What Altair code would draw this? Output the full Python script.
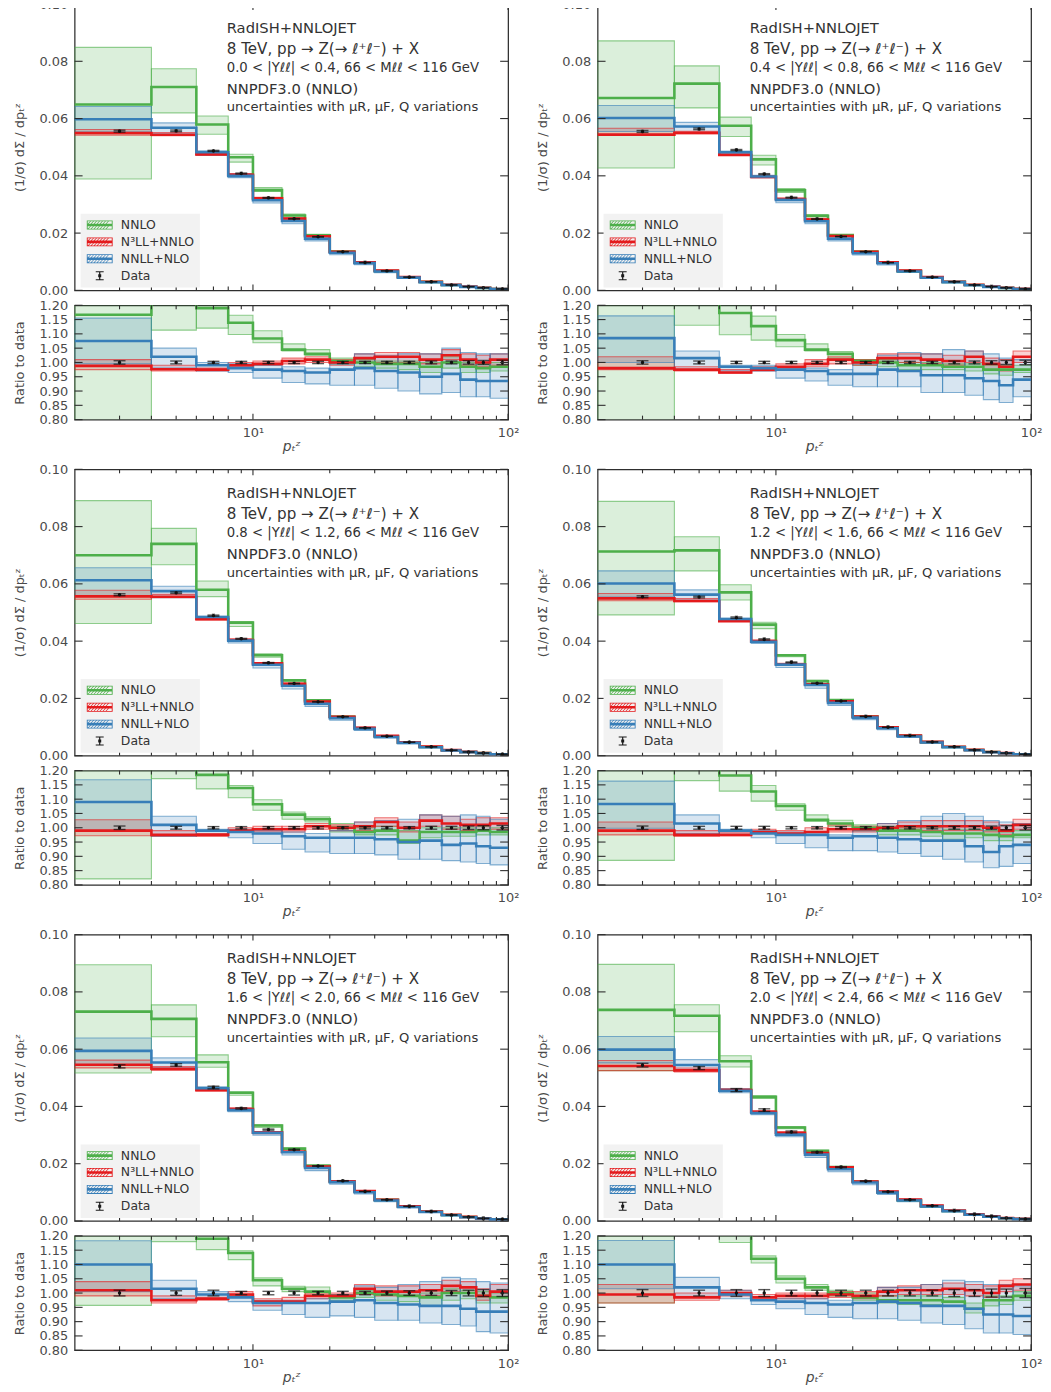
import altair as alt
import pandas as pd

# ---------------- bins / axes ----------------
EDGES = [2, 4, 6, 8, 10, 13, 16, 20, 25, 30, 37, 45, 55, 65, 75, 85, 105]
X_MAJOR = [10, 100]
X_MINOR = [3, 4, 5, 6, 7, 8, 9, 20, 30, 40, 50, 60, 70, 80, 90]
MAIN_YTICKS = [0.0, 0.02, 0.04, 0.06, 0.08, 0.10]
RATIO_YTICKS = [0.80, 0.85, 0.90, 0.95, 1.00, 1.05, 1.10, 1.15, 1.20]

SERIES = ["NNLO", "N³LL+NNLO", "NNLL+NLO", "Data"]
COLORS = ["#4daf4a", "#e41a1c", "#377eb8", "#1a1a1a"]

LINE1 = "RadISH+NNLOJET"
LINE2 = "8 TeV, pp → Z(→ ℓ⁺ℓ⁻) + X"
RAPIDITY = ["0.0 < |Yℓℓ| < 0.4", "0.4 < |Yℓℓ| < 0.8", "0.8 < |Yℓℓ| < 1.2",
            "1.2 < |Yℓℓ| < 1.6", "1.6 < |Yℓℓ| < 2.0", "2.0 < |Yℓℓ| < 2.4"]
MASS = "66 < Mℓℓ < 116 GeV"
LINE4 = "NNPDF3.0 (NNLO)"
LINE5 = "uncertainties with μR, μF, Q variations"

# ---------------- panel 1 : 0.0 < |Y| < 0.4 ----------------
P1_DATA = [0.0556, 0.0557, 0.0487, 0.0408, 0.0323, 0.0250, 0.0187, 0.0135, 0.0097, 0.0068, 0.0046, 0.0030, 0.0019, 0.0013, 0.0009, 0.0005]
P1_ERR = [0.006, 0.005, 0.004, 0.004, 0.004, 0.004, 0.004, 0.004, 0.004, 0.004, 0.004, 0.005, 0.005, 0.006, 0.007, 0.008]
P1_NNLO_C = [1.167, 1.275, 1.19, 1.139, 1.084, 1.045, 1.03, 1.005, 1.0, 0.995, 0.995, 0.985, 1.0, 0.985, 0.98, 0.985]
P1_NNLO_LO = [0.70, 1.113, 1.12, 1.098, 1.069, 1.04, 1.025, 0.995, 0.985, 0.98, 0.975, 0.965, 0.98, 0.965, 0.965, 0.97]
P1_NNLO_HI = [1.526, 1.39, 1.25, 1.165, 1.111, 1.065, 1.045, 1.015, 1.01, 1.005, 1.005, 1.0, 1.02, 1.0, 0.995, 1.0]
P1_N3LL_C = [0.988, 0.976, 0.975, 0.99, 0.995, 1.005, 1.01, 1.0, 1.015, 1.02, 1.02, 1.01, 1.025, 1.01, 1.0, 1.01]
P1_N3LL_LO = [0.975, 0.97, 0.97, 0.985, 0.99, 0.995, 1.0, 0.99, 1.0, 1.0, 1.0, 0.995, 1.01, 0.99, 0.985, 0.99]
P1_N3LL_HI = [1.01, 0.99, 0.98, 1.0, 1.005, 1.015, 1.02, 1.01, 1.03, 1.035, 1.035, 1.03, 1.045, 1.03, 1.025, 1.03]
P1_NNLL_C = [1.075, 1.02, 0.99, 0.98, 0.975, 0.97, 0.965, 0.975, 0.98, 0.97, 0.965, 0.95, 0.96, 0.94, 0.935, 0.935]
P1_NNLL_LO = [0.995, 0.98, 0.97, 0.965, 0.945, 0.93, 0.925, 0.92, 0.92, 0.91, 0.90, 0.89, 0.895, 0.88, 0.88, 0.875]
P1_NNLL_HI = [1.155, 1.05, 1.0, 0.995, 0.99, 0.985, 0.98, 0.995, 1.03, 1.025, 1.03, 1.03, 1.05, 1.035, 1.03, 1.03]

# ---------------- panel 2 : 0.4 < |Y| < 0.8 ----------------
P2_DATA = [0.0555, 0.0564, 0.0490, 0.0406, 0.0324, 0.0249, 0.0188, 0.0135, 0.0097, 0.0068, 0.0046, 0.0030, 0.0019, 0.0013, 0.0009, 0.0005]
P2_ERR = [0.006, 0.005, 0.004, 0.004, 0.004, 0.004, 0.004, 0.004, 0.004, 0.004, 0.004, 0.005, 0.005, 0.006, 0.007, 0.008]
P2_NNLO_C = [1.21, 1.28, 1.173, 1.127, 1.078, 1.045, 1.03, 1.005, 1.0, 0.99, 0.99, 0.985, 0.985, 0.975, 0.975, 0.975]
P2_NNLO_LO = [0.77, 1.13, 1.097, 1.078, 1.055, 1.04, 1.015, 0.99, 0.985, 0.975, 0.975, 0.975, 0.97, 0.96, 0.955, 0.965]
P2_NNLO_HI = [1.57, 1.39, 1.235, 1.162, 1.098, 1.065, 1.038, 1.01, 1.01, 1.0, 1.0, 0.995, 0.995, 0.99, 0.99, 0.99]
P2_N3LL_C = [0.98, 0.975, 0.965, 0.975, 0.985, 0.995, 1.01, 1.0, 1.015, 1.015, 1.01, 1.005, 1.02, 0.995, 0.985, 1.02]
P2_N3LL_LO = [0.975, 0.97, 0.962, 0.97, 0.98, 0.985, 0.995, 0.99, 1.0, 1.0, 0.995, 0.99, 1.0, 0.975, 0.97, 1.0]
P2_N3LL_HI = [1.02, 0.985, 0.975, 0.985, 0.995, 1.01, 1.02, 1.01, 1.03, 1.03, 1.03, 1.025, 1.04, 1.015, 1.01, 1.04]
P2_NNLL_C = [1.085, 1.015, 0.985, 0.98, 0.975, 0.97, 0.96, 0.96, 0.975, 0.97, 0.955, 0.955, 0.945, 0.935, 0.92, 0.94]
P2_NNLL_LO = [1.0, 0.975, 0.97, 0.97, 0.945, 0.935, 0.92, 0.915, 0.915, 0.915, 0.895, 0.895, 0.885, 0.87, 0.86, 0.88]
P2_NNLL_HI = [1.163, 1.04, 0.99, 0.99, 0.985, 0.98, 0.975, 0.995, 1.025, 1.035, 1.03, 1.045, 1.04, 1.03, 1.015, 1.01]

# ---------------- panel 3 : 0.8 < |Y| < 1.2 ----------------
P3_DATA = [0.0562, 0.0569, 0.0489, 0.0408, 0.0324, 0.0252, 0.0188, 0.0136, 0.0097, 0.0068, 0.0047, 0.0031, 0.0019, 0.0013, 0.0009, 0.0005]
P3_ERR = [0.006, 0.005, 0.004, 0.004, 0.004, 0.004, 0.004, 0.004, 0.004, 0.004, 0.004, 0.005, 0.005, 0.006, 0.007, 0.008]
P3_NNLO_C = [1.245, 1.30, 1.185, 1.139, 1.082, 1.046, 1.03, 1.0, 0.985, 0.99, 0.955, 0.985, 0.985, 0.985, 0.99, 0.985]
P3_NNLO_LO = [0.821, 1.172, 1.136, 1.105, 1.061, 1.03, 1.02, 0.985, 0.975, 0.975, 0.945, 0.965, 0.97, 0.97, 0.975, 0.975]
P3_NNLO_HI = [1.585, 1.395, 1.247, 1.148, 1.098, 1.055, 1.038, 1.015, 1.0, 1.005, 0.99, 1.0, 1.0, 1.0, 1.005, 1.0]
P3_N3LL_C = [0.99, 0.975, 0.975, 0.99, 0.995, 0.995, 1.005, 1.0, 1.005, 1.02, 1.0, 1.025, 1.015, 1.01, 1.01, 1.015]
P3_N3LL_LO = [0.972, 0.97, 0.97, 0.985, 0.985, 0.985, 0.995, 0.99, 0.99, 1.005, 0.985, 1.005, 0.995, 0.99, 0.99, 0.995]
P3_N3LL_HI = [1.028, 0.99, 0.98, 1.0, 1.005, 1.005, 1.015, 1.01, 1.02, 1.035, 1.02, 1.045, 1.04, 1.03, 1.035, 1.035]
P3_NNLL_C = [1.09, 1.01, 0.99, 0.985, 0.98, 0.97, 0.965, 0.965, 0.965, 0.96, 0.95, 0.955, 0.94, 0.945, 0.935, 0.93]
P3_NNLL_LO = [0.99, 0.97, 0.975, 0.965, 0.945, 0.925, 0.915, 0.91, 0.91, 0.905, 0.89, 0.89, 0.885, 0.88, 0.875, 0.87]
P3_NNLL_HI = [1.168, 1.04, 0.995, 0.995, 0.99, 0.985, 0.98, 0.99, 1.02, 1.025, 1.03, 1.045, 1.04, 1.045, 1.04, 1.03]

# ---------------- panel 4 : 1.2 < |Y| < 1.6 ----------------
P4_DATA = [0.0555, 0.0554, 0.0482, 0.0406, 0.0326, 0.0253, 0.0191, 0.0137, 0.0099, 0.0070, 0.0048, 0.0031, 0.0020, 0.0013, 0.0009, 0.0005]
P4_ERR = [0.006, 0.005, 0.005, 0.005, 0.004, 0.004, 0.004, 0.004, 0.004, 0.004, 0.004, 0.005, 0.005, 0.006, 0.007, 0.008]
P4_NNLO_C = [1.285, 1.294, 1.183, 1.127, 1.076, 1.028, 1.015, 1.0, 0.99, 0.99, 0.985, 0.98, 0.98, 0.975, 0.97, 0.975]
P4_NNLO_LO = [0.886, 1.165, 1.128, 1.093, 1.061, 1.022, 1.005, 0.99, 0.975, 0.975, 0.97, 0.96, 0.965, 0.955, 0.955, 0.965]
P4_NNLO_HI = [1.60, 1.38, 1.238, 1.148, 1.084, 1.045, 1.026, 1.01, 1.005, 1.0, 1.0, 0.995, 0.995, 0.99, 0.985, 0.99]
P4_N3LL_C = [0.99, 0.975, 0.975, 0.985, 0.98, 0.985, 0.995, 0.995, 1.0, 1.005, 1.005, 1.005, 1.005, 1.0, 0.99, 1.01]
P4_N3LL_LO = [0.975, 0.97, 0.972, 0.98, 0.975, 0.975, 0.985, 0.985, 0.99, 0.995, 0.99, 0.99, 0.99, 0.985, 0.975, 0.995]
P4_N3LL_HI = [1.02, 0.99, 0.985, 0.995, 0.99, 1.0, 1.01, 1.005, 1.015, 1.02, 1.025, 1.025, 1.025, 1.02, 1.01, 1.03]
P4_NNLL_C = [1.083, 1.015, 0.99, 0.98, 0.975, 0.975, 0.965, 0.97, 0.965, 0.96, 0.955, 0.955, 0.935, 0.915, 0.935, 0.94]
P4_NNLL_LO = [0.998, 0.98, 0.975, 0.965, 0.945, 0.93, 0.92, 0.92, 0.915, 0.91, 0.90, 0.89, 0.88, 0.86, 0.865, 0.875]
P4_NNLL_HI = [1.163, 1.045, 0.995, 0.99, 0.985, 0.985, 0.975, 0.99, 1.015, 1.025, 1.04, 1.05, 1.04, 1.025, 1.02, 1.015]

# ---------------- panel 5 : 1.6 < |Y| < 2.0 ----------------
P5_DATA = [0.0540, 0.0545, 0.0466, 0.0393, 0.0319, 0.0249, 0.0192, 0.0140, 0.0103, 0.0074, 0.0051, 0.0033, 0.0021, 0.0014, 0.0009, 0.0006]
P5_ERR = [0.010, 0.008, 0.010, 0.006, 0.006, 0.007, 0.006, 0.006, 0.006, 0.007, 0.008, 0.008, 0.009, 0.010, 0.012, 0.012]
P5_NNLO_C = [1.354, 1.295, 1.19, 1.14, 1.045, 1.015, 1.005, 0.985, 1.0, 0.995, 0.99, 0.985, 1.0, 1.0, 0.99, 0.985]
P5_NNLO_LO = [0.957, 1.18, 1.152, 1.117, 1.025, 1.005, 0.99, 0.975, 0.985, 0.975, 0.97, 0.955, 0.975, 0.98, 0.965, 0.965]
P5_NNLO_HI = [1.657, 1.385, 1.245, 1.148, 1.053, 1.024, 1.021, 0.995, 1.01, 1.005, 1.005, 1.0, 1.015, 1.01, 1.005, 1.0]
P5_N3LL_C = [1.01, 0.975, 0.98, 0.995, 0.97, 0.97, 0.99, 0.99, 1.015, 1.005, 1.005, 1.01, 1.025, 1.02, 0.99, 1.005]
P5_N3LL_LO = [0.99, 0.965, 0.975, 0.99, 0.955, 0.965, 0.98, 0.985, 0.995, 0.99, 0.99, 0.99, 1.005, 1.0, 0.975, 0.985]
P5_N3LL_HI = [1.04, 0.99, 0.985, 1.005, 0.98, 0.985, 1.0, 1.0, 1.03, 1.025, 1.025, 1.03, 1.045, 1.04, 1.015, 1.03]
P5_NNLL_C = [1.10, 1.015, 0.995, 0.985, 0.965, 0.965, 0.965, 0.97, 0.975, 0.965, 0.96, 0.955, 0.955, 0.945, 0.935, 0.935]
P5_NNLL_LO = [1.005, 0.98, 0.98, 0.97, 0.94, 0.925, 0.915, 0.92, 0.915, 0.905, 0.905, 0.895, 0.89, 0.885, 0.865, 0.86]
P5_NNLL_HI = [1.183, 1.045, 1.005, 0.995, 0.975, 0.975, 0.98, 0.995, 1.025, 1.02, 1.03, 1.04, 1.055, 1.05, 1.04, 1.035]

# ---------------- panel 6 : 2.0 < |Y| < 2.4 ----------------
P6_DATA = [0.0544, 0.0534, 0.0457, 0.0387, 0.0311, 0.0240, 0.0188, 0.0139, 0.0102, 0.0074, 0.0053, 0.0036, 0.0023, 0.0016, 0.0010, 0.0007]
P6_ERR = [0.012, 0.010, 0.012, 0.012, 0.010, 0.010, 0.010, 0.010, 0.010, 0.010, 0.010, 0.012, 0.012, 0.014, 0.014, 0.016]
P6_NNLO_C = [1.355, 1.342, 1.22, 1.12, 1.05, 1.02, 1.0, 0.985, 0.975, 0.975, 0.975, 0.97, 0.945, 0.975, 0.975, 0.99]
P6_NNLO_LO = [0.965, 1.238, 1.177, 1.105, 1.035, 1.01, 0.99, 0.975, 0.965, 0.96, 0.96, 0.955, 0.93, 0.955, 0.96, 0.975]
P6_NNLO_HI = [1.647, 1.414, 1.263, 1.13, 1.06, 1.03, 1.01, 1.0, 0.99, 0.99, 0.99, 0.985, 0.965, 0.99, 0.99, 1.005]
P6_N3LL_C = [0.995, 0.985, 1.0, 0.985, 0.99, 0.99, 0.995, 0.99, 1.005, 1.01, 1.01, 1.015, 1.01, 1.0, 1.025, 1.03]
P6_N3LL_LO = [0.965, 0.975, 0.99, 0.975, 0.98, 0.98, 0.985, 0.98, 0.99, 0.995, 0.995, 0.995, 0.99, 0.985, 1.005, 1.01]
P6_N3LL_HI = [1.03, 1.0, 1.01, 0.995, 1.0, 1.0, 1.005, 1.005, 1.02, 1.025, 1.03, 1.035, 1.03, 1.025, 1.045, 1.05]
P6_NNLL_C = [1.10, 1.02, 0.995, 0.975, 0.97, 0.965, 0.96, 0.965, 0.97, 0.965, 0.955, 0.955, 0.945, 0.925, 0.925, 0.92]
P6_NNLL_LO = [1.015, 0.985, 0.98, 0.96, 0.945, 0.925, 0.915, 0.91, 0.91, 0.905, 0.895, 0.89, 0.875, 0.86, 0.86, 0.855]
P6_NNLL_HI = [1.184, 1.055, 1.01, 0.985, 0.98, 0.98, 0.975, 0.99, 1.02, 1.02, 1.03, 1.045, 1.04, 1.03, 1.03, 1.025]

PANELS = [
    dict(data=P1_DATA, err=P1_ERR, NNLO=(P1_NNLO_C, P1_NNLO_LO, P1_NNLO_HI), N3LL=(P1_N3LL_C, P1_N3LL_LO, P1_N3LL_HI), NNLL=(P1_NNLL_C, P1_NNLL_LO, P1_NNLL_HI)),
    dict(data=P2_DATA, err=P2_ERR, NNLO=(P2_NNLO_C, P2_NNLO_LO, P2_NNLO_HI), N3LL=(P2_N3LL_C, P2_N3LL_LO, P2_N3LL_HI), NNLL=(P2_NNLL_C, P2_NNLL_LO, P2_NNLL_HI)),
    dict(data=P3_DATA, err=P3_ERR, NNLO=(P3_NNLO_C, P3_NNLO_LO, P3_NNLO_HI), N3LL=(P3_N3LL_C, P3_N3LL_LO, P3_N3LL_HI), NNLL=(P3_NNLL_C, P3_NNLL_LO, P3_NNLL_HI)),
    dict(data=P4_DATA, err=P4_ERR, NNLO=(P4_NNLO_C, P4_NNLO_LO, P4_NNLO_HI), N3LL=(P4_N3LL_C, P4_N3LL_LO, P4_N3LL_HI), NNLL=(P4_NNLL_C, P4_NNLL_LO, P4_NNLL_HI)),
    dict(data=P5_DATA, err=P5_ERR, NNLO=(P5_NNLO_C, P5_NNLO_LO, P5_NNLO_HI), N3LL=(P5_N3LL_C, P5_N3LL_LO, P5_N3LL_HI), NNLL=(P5_NNLL_C, P5_NNLL_LO, P5_NNLL_HI)),
    dict(data=P6_DATA, err=P6_ERR, NNLO=(P6_NNLO_C, P6_NNLO_LO, P6_NNLO_HI), N3LL=(P6_N3LL_C, P6_N3LL_LO, P6_N3LL_HI), NNLL=(P6_NNLL_C, P6_NNLL_LO, P6_NNLL_HI)),
]

# ---------------- styling ----------------
W, HM, HR = 436, 288, 115
FONT = "DejaVu Sans"
TXT = "#333333"
LBL = "#4a4a4a"
FRAME = "#2e2e2e"
KEYS = {"NNLO": "NNLO", "N³LL+NNLO": "N3LL", "NNLL+NLO": "NNLL"}
DRAW = ["NNLO", "N³LL+NNLO", "NNLL+NLO"]
XSCALE = alt.Scale(type="log", domain=[2, 100], nice=False)


def patch_path():
    parts = ["M-2.6,-0.9H2.6V0.9H-2.6Z", "M-2.42,-0.74V0.74H2.42V-0.74Z", "M-2.42,-0.26H2.42V0.26H-2.42Z"]
    for yt, yb in [(-0.74, -0.26), (0.26, 0.74)]:
        h = yb - yt
        a = -2.42
        while a + h + 0.18 <= 2.42:
            parts.append(f"M{a + h:.2f},{yt}L{a + h + 0.18:.2f},{yt}L{a + 0.18:.2f},{yb}L{a:.2f},{yb}Z")
            a += 0.6
    return "".join(parts)


PATCH = patch_path()
IBEAM = "M-0.8,-0.9H0.8V-0.7H0.12V0.7H0.8V0.9H-0.8V0.7H-0.12V-0.7H-0.8ZM-0.3,-0.3H0.3V0.3H-0.3Z"
SHAPES = [PATCH, PATCH, PATCH, IBEAM]

LEGEND = alt.Legend(
    title=None, orient="none", legendX=6, legendY=211, padding=5, fillColor="#f2f2f2",
    symbolSize=100, symbolOffset=8, labelOffset=15, rowPadding=4,
    symbolStrokeWidth=0, symbolOpacity=1,
    labelFont=FONT, labelFontSize=12.5, labelColor=TXT,
)


def band_df(p, ratio):
    rows = []
    for s in DRAW:
        c, lo, hi = p[KEYS[s]]
        for i in range(len(c)):
            f = 1.0 if ratio else p["data"][i]
            rows.append({"series": s, "x": EDGES[i], "x2": EDGES[i + 1], "lo": lo[i] * f, "hi": hi[i] * f})
    return pd.DataFrame(rows)


def line_df(p, ratio):
    rows = []
    for s in DRAW:
        c = p[KEYS[s]][0]
        for i in range(len(c) + 1):
            j = min(i, len(c) - 1)
            f = 1.0 if ratio else p["data"][j]
            rows.append({"series": s, "x": EDGES[i], "y": c[j] * f})
    return pd.DataFrame(rows)


def data_df(p, ratio):
    rows = []
    for i, (d, e) in enumerate(zip(p["data"], p["err"])):
        v = 1.0 if ratio else d
        rows.append({"series": "Data", "x": (EDGES[i] + EDGES[i + 1]) / 2, "y": v,
                     "lo": v * (1 - e), "hi": v * (1 + e)})
    return pd.DataFrame(rows)


def make_panel(p, idx, ratio):
    H = HR if ratio else HM
    if ratio:
        ysc = alt.Scale(domain=[0.8, 1.2], nice=False, zero=False)
        yax = alt.Axis(values=RATIO_YTICKS, format=".2f", title="Ratio to data", labelPadding=7,
                       titlePadding=12, labelOverlap=False, labelFlush=False)
        xax = alt.Axis(values=X_MAJOR, labelExpr="datum.value == 10 ? '10¹' : '10²'", title="pₜᶻ",
                       labelPadding=7, titlePadding=0, labelFlush=False, labelOverlap=False,
                       titleFontStyle="italic", titleFontSize=14)
        yt = RATIO_YTICKS
    else:
        ysc = alt.Scale(domain=[0.0, 0.1], nice=False, zero=False)
        yax = alt.Axis(values=MAIN_YTICKS, format=".2f", title="(1/σ) dΣ / dpₜᶻ", labelPadding=7,
                       titlePadding=12, labelOverlap=False, labelFlush=False)
        xax = None
        yt = MAIN_YTICKS

    def X(f):
        return alt.X(f, type="quantitative", scale=XSCALE, axis=xax)

    def Y(f):
        return alt.Y(f, type="quantitative", scale=ysc, axis=yax)

    cscale = alt.Scale(domain=SERIES, range=COLORS)

    def C():
        if ratio:
            return alt.Color("series:N", scale=cscale, legend=None)
        return alt.Color("series:N", scale=cscale)

    bdf = band_df(p, ratio)
    fill = alt.Chart(bdf).mark_rect(fillOpacity=0.2, clip=True).encode(
        x=X("x"), x2="x2", y=Y("lo"), y2="hi", color=C())
    outline = alt.Chart(bdf).mark_rect(filled=False, strokeOpacity=0.6, strokeWidth=1.1, clip=True).encode(
        x=X("x"), x2="x2", y=Y("lo"), y2="hi", color=C())
    lines = alt.Chart(line_df(p, ratio)).mark_line(interpolate="step-after", strokeWidth=2.6, clip=True).encode(
        x=X("x"), y=Y("y"), color=C())

    dd = alt.Chart(data_df(p, ratio))
    err = dd.mark_rule(color="#111111", strokeWidth=1.3).encode(x=X("x"), y=Y("lo"), y2="hi")
    cap_lo = dd.mark_tick(orient="horizontal", size=12, thickness=1.4, color="#111111").encode(x=X("x"), y=Y("lo"))
    cap_hi = dd.mark_tick(orient="horizontal", size=12, thickness=1.4, color="#111111").encode(x=X("x"), y=Y("hi"))
    dot = dd.mark_point(filled=True, size=12, color="#111111", opacity=1).encode(x=X("x"), y=Y("y"))

    # inward ticks on all four sides
    tk = dict(color=FRAME, strokeWidth=1.1)
    ymaj = alt.Chart(pd.DataFrame({"v": yt}))
    xmaj = alt.Chart(pd.DataFrame({"v": X_MAJOR}))
    xmin = alt.Chart(pd.DataFrame({"v": X_MINOR}))
    ticks = [
        ymaj.mark_rule(**tk).encode(y=Y("v"), x=alt.value(0), x2=alt.value(8)),
        ymaj.mark_rule(**tk).encode(y=Y("v"), x=alt.value(W - 8), x2=alt.value(W)),
        xmaj.mark_rule(**tk).encode(x=X("v"), y=alt.value(H - 6), y2=alt.value(H)),
        xmaj.mark_rule(**tk).encode(x=X("v"), y=alt.value(0), y2=alt.value(6)),
        xmin.mark_rule(**tk).encode(x=X("v"), y=alt.value(H - 4), y2=alt.value(H)),
        xmin.mark_rule(**tk).encode(x=X("v"), y=alt.value(0), y2=alt.value(4)),
    ]

    layers = []
    if not ratio:
        # legend-bearing layer (data points keyed by series)
        layers.append(dd.mark_point(filled=True, size=16, opacity=1).encode(
            x=X("x"), y=Y("y"),
            color=alt.Color("series:N", scale=cscale, legend=LEGEND),
            shape=alt.Shape("series:N", scale=alt.Scale(domain=SERIES, range=SHAPES), legend=LEGEND)))
    layers += [fill, outline, lines, err, cap_lo, cap_hi, dot] + ticks
    if not ratio:
        texts = [LINE1, LINE2, RAPIDITY[idx] + ", " + MASS, LINE4, LINE5]
        ys = [29, 50, 68, 90, 108]
        sizes = [14.8, 15.2, 13.3, 14.8, 13.2]
        for t, yy, fs in zip(texts, ys, sizes):
            layers.append(
                alt.Chart(pd.DataFrame({"t": [t]})).mark_text(
                    align="left", baseline="alphabetic", font=FONT, fontSize=fs, color=TXT
                ).encode(text="t:N", x=alt.value(153), y=alt.value(yy))
            )
    return alt.layer(*layers).properties(width=W, height=H)


RES = dict(color="independent", shape="independent")

cols = []
for idx, p in enumerate(PANELS):
    main = make_panel(p, idx, False)
    rat = make_panel(p, idx, True)
    cols.append(alt.vconcat(main, rat, spacing=0).resolve_scale(**RES))

rows = [alt.hconcat(cols[2 * r], cols[2 * r + 1], spacing=16).resolve_scale(**RES)
        for r in range(3)]

chart = alt.vconcat(*rows, spacing=8).resolve_scale(**RES)
chart = chart.properties(
    padding={"top": -15, "left": 5, "right": 0, "bottom": 0}
).configure_view(
    stroke=FRAME, strokeWidth=1.25
).configure_axis(
    labelFont=FONT, titleFont=FONT, labelFontSize=13, titleFontSize=13,
    labelColor=LBL, titleColor=LBL, titleFontWeight="normal",
    grid=False, domain=False, ticks=False
)

chart.save("out.html", embed_options={"renderer": "svg", "actions": False})
